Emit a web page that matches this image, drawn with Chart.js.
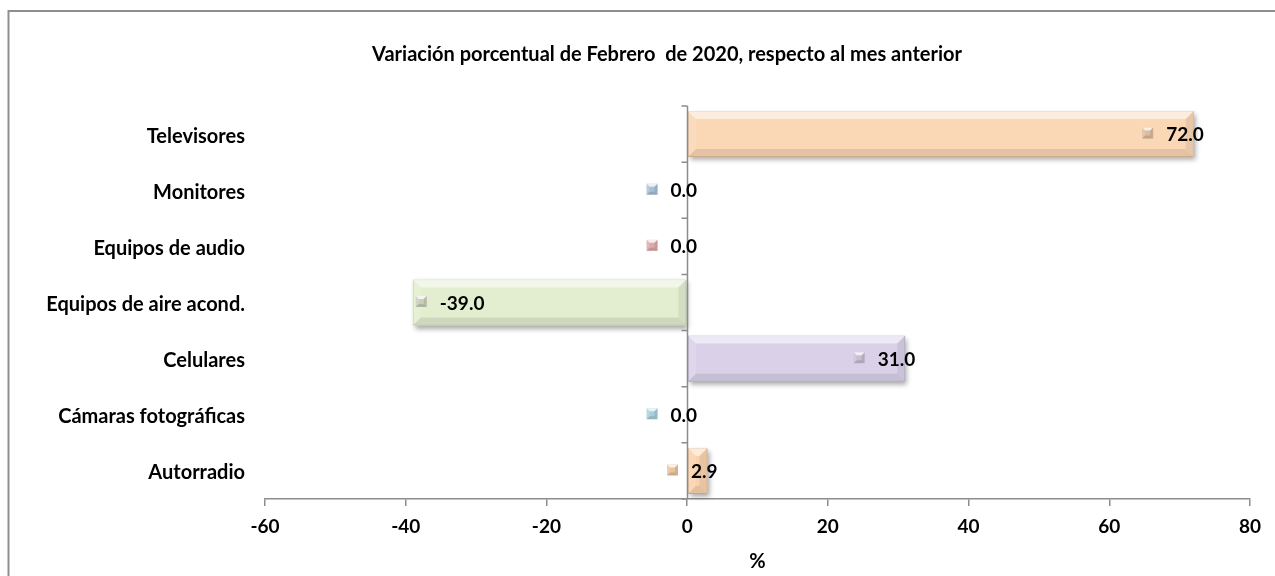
<!DOCTYPE html>
<html><head><meta charset="utf-8">
<script src="https://cdn.jsdelivr.net/npm/chart.js@4.4.1/dist/chart.umd.min.js"></script>
<style>html,body{margin:0;padding:0;background:#fff;overflow:hidden}#wrap{width:1275px;height:576px;position:relative}</style>
</head><body><div id="wrap"><canvas id="c" width="1275" height="576"></canvas></div>
<script>
const chartTitle = 'Variación porcentual de Febrero  de 2020, respecto al mes anterior';
const categories = ['Televisores', 'Monitores', 'Equipos de audio', 'Equipos de aire acond.', 'Celulares', 'Cámaras fotográficas', 'Autorradio'];
const values = [72.0, 0.0, 0.0, -39.0, 31.0, 0.0, 2.9];
const xTicks = [-60, -40, -20, 0, 20, 40, 60, 80];
const axisTitle = '%';
const barColors = ['#FAD7B5', '#B9CDE3', '#E6BBBC', '#E3EED0', '#DAD1E9', '#B7DCE5', '#F9D2AD'];
const barBorders = ['#E2BC98', '#94A9C2', '#C49596', '#C5D2AF', '#BDB2CF', '#8FB7C1', '#E0B790'];
const markerColors = ['#DCBC9E', '#A7BFD9', '#DDA9AB', '#C9CEB9', '#C6BED3', '#A6D0DB', '#E9C3A0'];

const FONT = 'Lato, "Liberation Sans", sans-serif';
const FS_TITLE = 20, FS_CAT = 20, FS_TICK = 19, FS_LBL = 19, FS_AX = 20;

function bevel(ctx, x0, y0, x1, y1, b, k) {
  k = k || 1;
  const w = x1 - x0, h = y1 - y0;
  b = Math.min(b, w / 2, h / 2);
  if (b <= 0) return;
  const poly = (pts, col) => { ctx.beginPath(); ctx.moveTo(pts[0][0], pts[0][1]); for (let i = 1; i < pts.length; i++) ctx.lineTo(pts[i][0], pts[i][1]); ctx.closePath(); ctx.fillStyle = col; ctx.fill(); };
  poly([[x0, y0], [x1, y0], [x1 - b, y0 + b], [x0 + b, y0 + b]], 'rgba(255,255,255,' + 0.55 * k + ')');
  poly([[x0, y0], [x0 + b, y0 + b], [x0 + b, y1 - b], [x0, y1]], 'rgba(255,255,255,' + 0.12 * k + ')');
  poly([[x1, y0], [x1, y1], [x1 - b, y1 - b], [x1 - b, y0 + b]], 'rgba(0,0,0,' + 0.07 * k + ')');
  poly([[x0, y1], [x1, y1], [x1 - b, y1 - b], [x0 + b, y1 - b]], 'rgba(0,0,0,' + 0.09 * k + ')');
}

const deco = {
  id: 'deco',
  beforeDraw(chart) {
    const ctx = chart.ctx;
    ctx.save();
    ctx.strokeStyle = '#8f8f8f';
    ctx.lineWidth = 2;
    ctx.beginPath();
    ctx.moveTo(8.5, 576); ctx.lineTo(8.5, 11); ctx.lineTo(1275, 11);
    ctx.stroke();
    ctx.fillStyle = '#000';
    ctx.font = 'bold ' + FS_TITLE + 'px ' + FONT;
    ctx.textAlign = 'center';
    ctx.textBaseline = 'middle';
    ctx.fillText(chartTitle, 667, 55);
    ctx.restore();
  },
  beforeDatasetsDraw(chart) {
    const ctx = chart.ctx;
    const meta = chart.getDatasetMeta(0);
    ctx.save();
    meta.data.forEach((el, i) => {
      const p = el.getProps(['x', 'y', 'base', 'height'], true);
      const x0 = Math.min(p.x, p.base), x1 = Math.max(p.x, p.base);
      if (x1 - x0 < 1) return;
      ctx.shadowColor = 'rgba(0,0,0,0.35)';
      ctx.shadowBlur = 5;
      ctx.shadowOffsetX = 2;
      ctx.shadowOffsetY = 3;
      ctx.fillStyle = barColors[i];
      ctx.fillRect(x0, p.y - p.height / 2, x1 - x0, p.height);
    });
    ctx.restore();
  },
  afterDatasetsDraw(chart) {
    const ctx = chart.ctx;
    const xs = chart.scales.x, ys = chart.scales.y;
    const meta = chart.getDatasetMeta(0);
    ctx.save();
    meta.data.forEach((el, i) => {
      const p = el.getProps(['x', 'y', 'base', 'height'], true);
      const x0 = Math.min(p.x, p.base), x1 = Math.max(p.x, p.base);
      if (x1 - x0 >= 1) bevel(ctx, x0, p.y - p.height / 2, x1, p.y + p.height / 2, 8, 1);
    });
    // zero axis line with ticks
    const zx = Math.round(xs.getPixelForValue(0)) + 0.5;
    ctx.strokeStyle = '#8c8c8c';
    ctx.lineWidth = 1.5;
    ctx.beginPath();
    ctx.moveTo(zx, ys.top); ctx.lineTo(zx, ys.bottom);
    const n = categories.length;
    for (let i = 0; i <= n; i++) {
      const yy = ys.top + i * (ys.bottom - ys.top) / n;
      ctx.moveTo(zx - 6, yy); ctx.lineTo(zx, yy);
    }
    ctx.stroke();
    // data labels
    ctx.font = 'bold ' + FS_LBL + 'px ' + FONT;
    ctx.textBaseline = 'middle';
    ctx.fillStyle = '#000';
    const ms = 11, gap = 13;
    meta.data.forEach((el, i) => {
      const p = el.getProps(['x', 'y', 'base', 'height'], true);
      const txt = values[i].toFixed(1);
      const tw = ctx.measureText(txt).width;
      let tx, mx;
      if (values[i] < 0) {
        mx = p.x + 3;
        tx = mx + ms + gap;
      } else {
        tx = p.x + 10 - tw;
        mx = tx - gap - ms;
      }
      const my = p.y - ms / 2 - 1;
      ctx.fillStyle = markerColors[i];
      ctx.fillRect(mx, my, ms, ms);
      bevel(ctx, mx, my, mx + ms, my + ms, 3, 1.4);
      ctx.fillStyle = '#000';
      ctx.textAlign = 'left';
      ctx.fillText(txt, tx, p.y + 1);
    });
    ctx.restore();
  }
};

new Chart(document.getElementById('c'), {
  type: 'bar',
  data: {
    labels: categories,
    datasets: [{
      data: values,
      backgroundColor: barColors,
      borderColor: barBorders,
      borderWidth: (c) => (values[c.dataIndex] === 0 ? 0 : 1),
      borderSkipped: false,
      categoryPercentage: 1,
      barPercentage: 0.82
    }]
  },
  options: {
    indexAxis: 'y',
    responsive: false,
    animation: false,
    devicePixelRatio: 1,
    layout: { padding: { top: 106, right: 25, left: 0, bottom: 0 } },
    plugins: { legend: { display: false }, title: { display: false }, tooltip: { enabled: false } },
    scales: {
      x: {
        type: 'linear',
        min: xTicks[0],
        max: xTicks[xTicks.length - 1],
        afterBuildTicks: (s) => { s.ticks = xTicks.map(v => ({ value: v })); },
        grid: { display: true, drawOnChartArea: false, drawTicks: true, tickLength: 7, color: '#8c8c8c', lineWidth: 1.5 },
        border: { display: true, color: '#8c8c8c', width: 1.5 },
        ticks: { color: '#000', font: { family: FONT, size: FS_TICK, weight: 'bold' }, padding: 9 },
        title: { display: true, text: axisTitle, color: '#000', font: { family: FONT, size: FS_AX, weight: 'bold' }, padding: { top: 0, bottom: 2 } },
        afterFit: (s) => { s.height = 77; }
      },
      y: {
        type: 'category',
        grid: { display: false },
        border: { display: false },
        ticks: { color: '#000', font: { family: FONT, size: FS_CAT, weight: 'bold' }, padding: 12, labelOffset: 2 },
        afterFit: (s) => { s.width = 265; }
      }
    }
  },
  plugins: [deco]
});
</script></body></html>
